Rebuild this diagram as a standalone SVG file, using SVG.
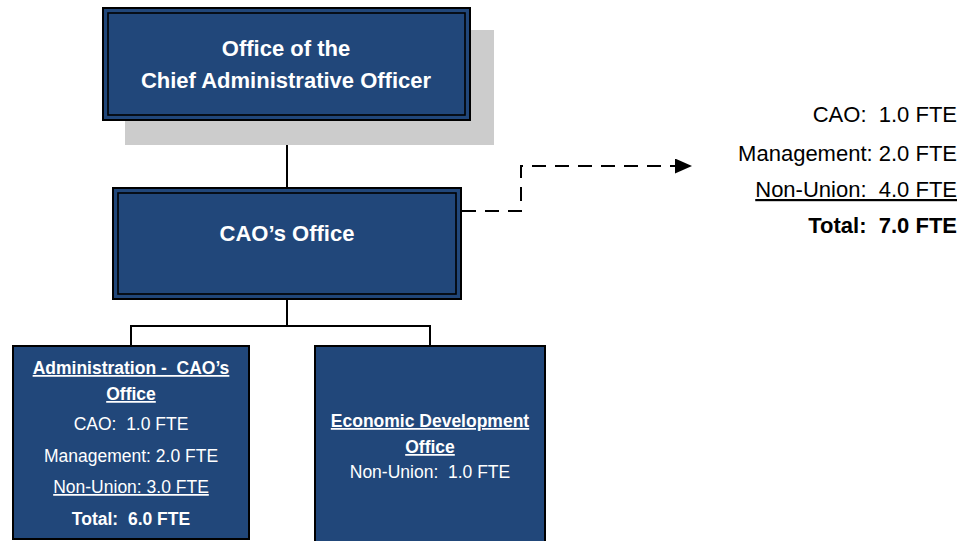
<svg xmlns="http://www.w3.org/2000/svg" width="962" height="541" viewBox="0 0 962 541">
<defs>
<style>
.box{fill:#21477A;stroke:#000;stroke-width:2}
.inner{fill:none;stroke:#000;stroke-width:1.6}
.conn{fill:none;stroke:#000;stroke-width:2}
.t{font-family:"Liberation Sans",Arial,sans-serif;fill:#fff;text-anchor:middle}
.b{font-weight:bold}
.r{font-family:"Liberation Sans",Arial,sans-serif;fill:#000;text-anchor:end;font-size:22px}
.u{text-decoration:underline}
</style>
<marker id="arr" viewBox="0 0 17 15" refX="17" refY="7.5" markerWidth="17" markerHeight="15" markerUnits="userSpaceOnUse" orient="auto">
<path d="M0,0 L17,7.5 L0,15 Z" fill="#000"/>
</marker>
</defs>
<g id="connectors">
<line class="conn" x1="287" y1="121" x2="287" y2="188"/>
<polyline class="conn" points="287,299 287,326"/>
<polyline class="conn" points="131,346 131,326 430,326 430,346"/>
<polyline class="conn" points="462,211 521,211 521,166 692,166" stroke-dasharray="14 9" marker-end="url(#arr)"/>
</g>
<g id="office-cao">
<rect x="125" y="30" width="369" height="115" fill="#CCCCCC"/>
<rect class="box" x="103" y="8" width="367" height="112"/>
<rect class="inner" x="108" y="13" width="357" height="102"/>
<text class="t b" x="286" y="56" font-size="22">Office of the</text>
<text class="t b" x="286" y="88" font-size="22">Chief Administrative Officer</text>
</g>
<g id="cao-office">
<rect class="box" x="113" y="188" width="348" height="111"/>
<rect class="inner" x="118" y="193" width="338" height="101"/>
<text class="t b" x="287" y="241" font-size="22">CAO’s Office</text>
</g>
<g id="administration">
<rect class="box" x="13" y="346" width="236" height="193"/>
<text class="t b u" x="131" y="374" font-size="17.5" xml:space="preserve">Administration -  CAO’s</text>
<text class="t b u" x="131" y="400" font-size="17.5">Office</text>
<text class="t" x="131" y="430" font-size="17.5" xml:space="preserve">CAO:  1.0 FTE</text>
<text class="t" x="131" y="462" font-size="17.5">Management: 2.0 FTE</text>
<text class="t u" x="131" y="493" font-size="17.5">Non-Union: 3.0 FTE</text>
<text class="t b" x="131" y="525" font-size="17.5" xml:space="preserve">Total:  6.0 FTE</text>
</g>
<g id="economic-development">
<rect class="box" x="315" y="346" width="230" height="200"/>
<text class="t b u" x="430" y="427" font-size="17.5">Economic Development</text>
<text class="t b u" x="430" y="453" font-size="17.5">Office</text>
<text class="t" x="430" y="478" font-size="17.5" xml:space="preserve">Non-Union:  1.0 FTE</text>
</g>
<g id="fte-summary">
<text class="r" x="957" y="122" xml:space="preserve">CAO:  1.0 FTE</text>
<text class="r" x="957" y="161">Management: 2.0 FTE</text>
<text class="r u" x="957" y="197" xml:space="preserve">Non-Union:  4.0 FTE</text>
<text class="r b" x="957" y="233" xml:space="preserve">Total:  7.0 FTE</text>
</g>
</svg>
